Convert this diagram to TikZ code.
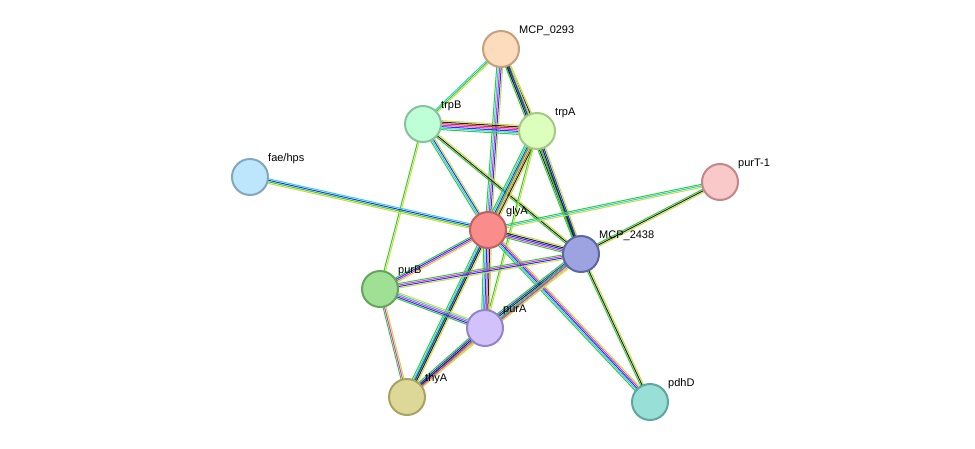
\documentclass[tikz,border=0pt]{standalone}
\usepackage{fontspec}
\setmainfont{Liberation Sans}
\usetikzlibrary{calc}
\definecolor{eg}{HTML}{33CC33}\definecolor{ey}{HTML}{C8DC3C}\definecolor{eb}{HTML}{2233EE}
\definecolor{ec}{HTML}{33CCDD}\definecolor{em}{HTML}{DD33DD}\definecolor{ek}{HTML}{222222}\definecolor{er}{HTML}{EE2222}
\newcommand{\sedge}[3]{%
 \foreach \cc [count=\ii] in {#3} {\xdef\nn{\ii}}%
 \foreach \cc [count=\ii] in {#3} {%
   \pgfmathsetmacro{\off}{(\ii-(\nn+1)/2)*1.5}%
   \draw[color=\cc,line width=1pt] ($(#1)!\off pt!90:(#2)$) -- ($(#2)!\off pt!-90:(#1)$);}%
}
\tikzset{prot/.style={circle,minimum size=36pt,inner sep=0pt,line width=2pt},
 lab/.style={font=\fontsize{11}{12}\selectfont,anchor=south west,inner sep=0pt}}
\begin{document}
\begin{tikzpicture}[x=1pt,y=-1pt]
\useasboundingbox (0,0) rectangle (975,448);
\coordinate (MCP0293) at (501,49);
\coordinate (trpB) at (423,124);
\coordinate (trpA) at (537,131);
\coordinate (fae) at (250,177);
\coordinate (purT) at (720,182);
\coordinate (glyA) at (488,230);
\coordinate (MCP2438) at (581,254);
\coordinate (purB) at (380,289);
\coordinate (purA) at (485,328);
\coordinate (thyA) at (407,397);
\coordinate (pdhD) at (650,402);
\sedge{MCP0293}{trpB}{ec,eg,ey}
\sedge{MCP0293}{trpA}{eg,eb,ek,ey}
\sedge{MCP0293}{glyA}{eg,ec,em,eb,ey}
\sedge{MCP0293}{MCP2438}{eg,ek,eb,ey}
\sedge{trpB}{trpA}{eg,ec,eb,em,er,ek,ey}
\sedge{trpB}{glyA}{eg,ec,eb,ey}
\sedge{trpB}{MCP2438}{eg,ek,ey}
\sedge{trpB}{purB}{eg,ey}
\sedge{trpA}{glyA}{eg,ec,eb,em,er,ek,ey}
\sedge{trpA}{MCP2438}{eg,ek,eb,ey}
\sedge{trpA}{purA}{eg,ey}
\sedge{trpA}{thyA}{eg,ey}
\sedge{fae}{glyA}{ey,eg,eb,ec}
\sedge{purT}{glyA}{eg,ec,ey}
\sedge{purT}{MCP2438}{eg,ek,ey}
\sedge{glyA}{MCP2438}{eg,em,eb,ek,ey}
\sedge{glyA}{purB}{eg,eb,em,ey}
\sedge{glyA}{purA}{eg,ec,eb,em,ek,ey}
\sedge{glyA}{thyA}{eg,ec,eb,ek,ey}
\sedge{glyA}{pdhD}{eg,ec,eb,em,ey}
\sedge{MCP2438}{purB}{eg,em,eb,ey}
\sedge{MCP2438}{purA}{eg,eb,ek,ec,em,ey}
\sedge{MCP2438}{thyA}{eg,em,ey}
\sedge{MCP2438}{pdhD}{eg,ek,ey}
\sedge{purB}{purA}{eg,eb,em,ec,ey}
\sedge{purB}{thyA}{eg,em,ey}
\sedge{purA}{thyA}{eg,eb,ek,em,ey}
\foreach \n/\f/\s/\t in {MCP0293/FDDCBE/C4A07C/MCP\_0293, trpB/BFFFD8/86C39C/trpB, trpA/DDFFBD/A5C886/trpA,
 fae/BDE6FC/82A8BD/fae\slash hps, purT/F9C8C8/C28888/purT-1, glyA/FB8C8C/C25F5F/glyA,
 MCP2438/9CA3E0/5C66A5/MCP\_2438, purB/A0E095/63A65C/purB, purA/D2C2FC/9583C7/purA,
 thyA/DDD898/A8A35E/thyA, pdhD/98E0D7/5EA79F/pdhD} {
 \definecolor{ff}{HTML}{\f}\definecolor{ss}{HTML}{\s}
 \node[prot,fill=ff,draw=ss] (n\n) at (\n) {};
 \node[lab] (l\n) at ($(\n)+(18,-13)$) {\t};
}
\end{tikzpicture}
\end{document}
